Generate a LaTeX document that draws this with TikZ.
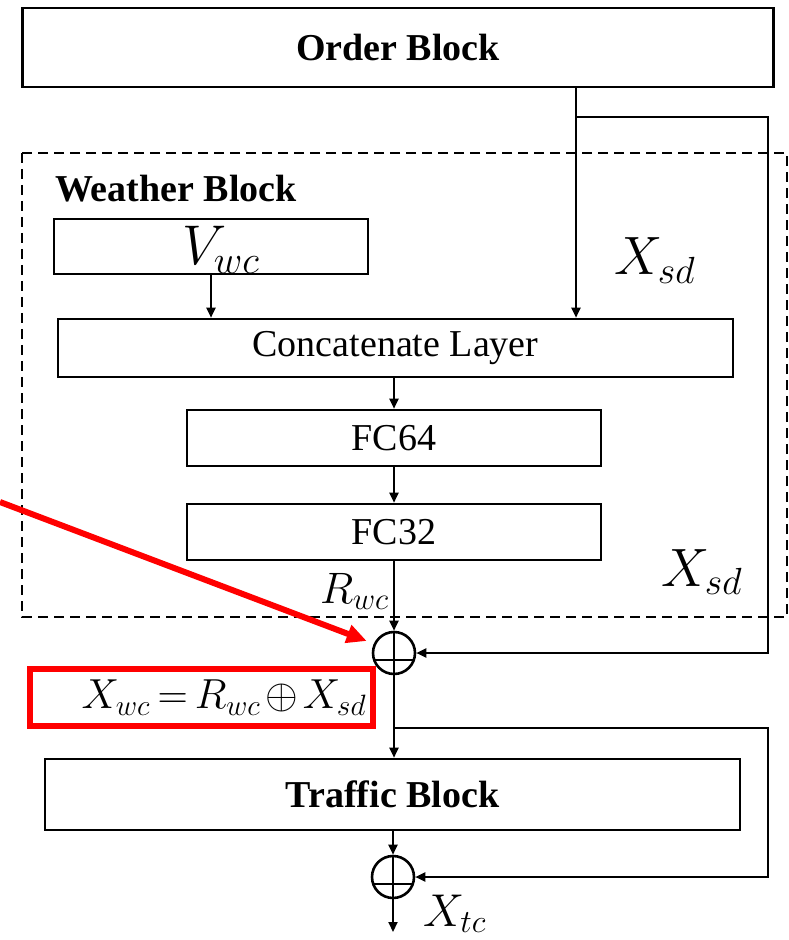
\RequirePackage{fix-cm}
\documentclass[tikz,border=0pt]{standalone}
\usepackage{amsmath,amssymb}
\usepackage{fontspec}
\setmainfont{Liberation Serif}
\usepackage{tikz}
\usetikzlibrary{arrows.meta,positioning,calc}
\colorlet{c1}{red}
\colorlet{c2}{black}

\begin{document}
\begin{tikzpicture}[x=0.5pt, y=-0.5pt, >={Triangle[length=5pt,width=4.5pt]}, line width=1pt]
\tikzstyle{block}=[draw=c2, line width=1.3pt, inner sep=0pt, font=\fontsize{19}{22}\selectfont]
\tikzstyle{sumnode}=[draw=c2, circle, line width=1.3pt, minimum size=21pt, inner sep=0pt,
  path picture={\draw[line width=1.2pt] (path picture bounding box.north) -- (path picture bounding box.south)
  ([yshift=-3.5pt]path picture bounding box.west) -- ([yshift=-3.5pt]path picture bounding box.east);}]
\tikzstyle{lbl}=[anchor=base west, inner sep=0pt]
\useasboundingbox (0,0) rectangle (788,940);

% order block and weather block
\node[block, minimum width=375.75pt, minimum height=39.5pt] (order) at (398,47.5) {\textbf{Order Block}};
\draw[dash pattern=on 5pt off 3pt, line width=1.4pt] (22,153) rectangle (787,617);
\node[lbl, font=\fontsize{19}{22}\selectfont\bfseries] (wtitle) at (54,202) {Weather Block};
\node[block, minimum width=157pt, minimum height=27.5pt, text height=22pt, text depth=3.5pt]
  (vwc) at (211,246.5) {\hspace*{10pt}\fontsize{28}{30}\selectfont$V_{wc}$};
\node[block, minimum width=337.5pt, minimum height=29pt] (concat) at (395.5,348) {Concatenate Layer};
\node[block, minimum width=207pt, minimum height=28pt] (fc64) at (394,438) {FC64};
\node[block, minimum width=207pt, minimum height=28pt] (fc32) at (394,532) {FC32};
\node[sumnode] (sum1) at (394,653) {};
\node[block, minimum width=347.5pt, minimum height=35.5pt] (traffic) at (392.5,794.5) {\textbf{Traffic Block}};
\node[sumnode] (sum2) at (393,877) {};

% labels
\node[lbl, font=\fontsize{27}{30}\selectfont] (xsd1) at (613,275) {$X_{sd}$};
\node[lbl, font=\fontsize{27}{30}\selectfont] (xsd2) at (660,586) {$X_{sd}$};
\node[lbl, font=\fontsize{22}{24}\selectfont] (rwc) at (319,603) {$R_{wc}$};
\node[lbl, font=\fontsize{23}{26}\selectfont] (xtc) at (422,926) {$X_{tc}$};
\node[draw=c1, line width=3pt, minimum height=28.5pt, inner xsep=3pt, inner ysep=0pt, text width=165.5pt, align=right,
  font=\fontsize{21}{24}\selectfont] (eqbox) at (201,697.5)
  {$\thickmuskip=3mu\medmuskip=2mu X_{wc}=R_{wc}\oplus X_{sd}$};

% connectors
\coordinate (split1) at (576,117);
\coordinate (rt1) at (768,117);
\coordinate (split2) at (394,728);
\coordinate (rt2) at (768,728);
\coordinate (out) at (393,932);
\coordinate (redstart) at (0,502);
\draw[->] (order.south -| split1) -- (concat.north -| split1);
\draw[->] (split1) -- (rt1) |- (sum1.east);
\draw[->] (vwc.south) -- (concat.north -| vwc.south);
\draw[->] (concat.south -| fc64.north) -- (fc64.north);
\draw[->] (fc64.south) -- (fc32.north);
\draw[->] (fc32.south) -- (sum1.north);
\draw[->] (sum1.south) -- (sum1.south |- traffic.north);
\draw[->] (split2) -- (rt2) |- (sum2.east);
\draw[->] (traffic.south -| sum2.north) -- (sum2.north);
\draw[->] (sum2.south) -- (out);
\draw[c1, line width=3pt, -{Triangle[length=10pt,width=9pt]}] (redstart) -- ([shift={(-2.5pt,6pt)}]sum1.west);
\end{tikzpicture}
\end{document}
